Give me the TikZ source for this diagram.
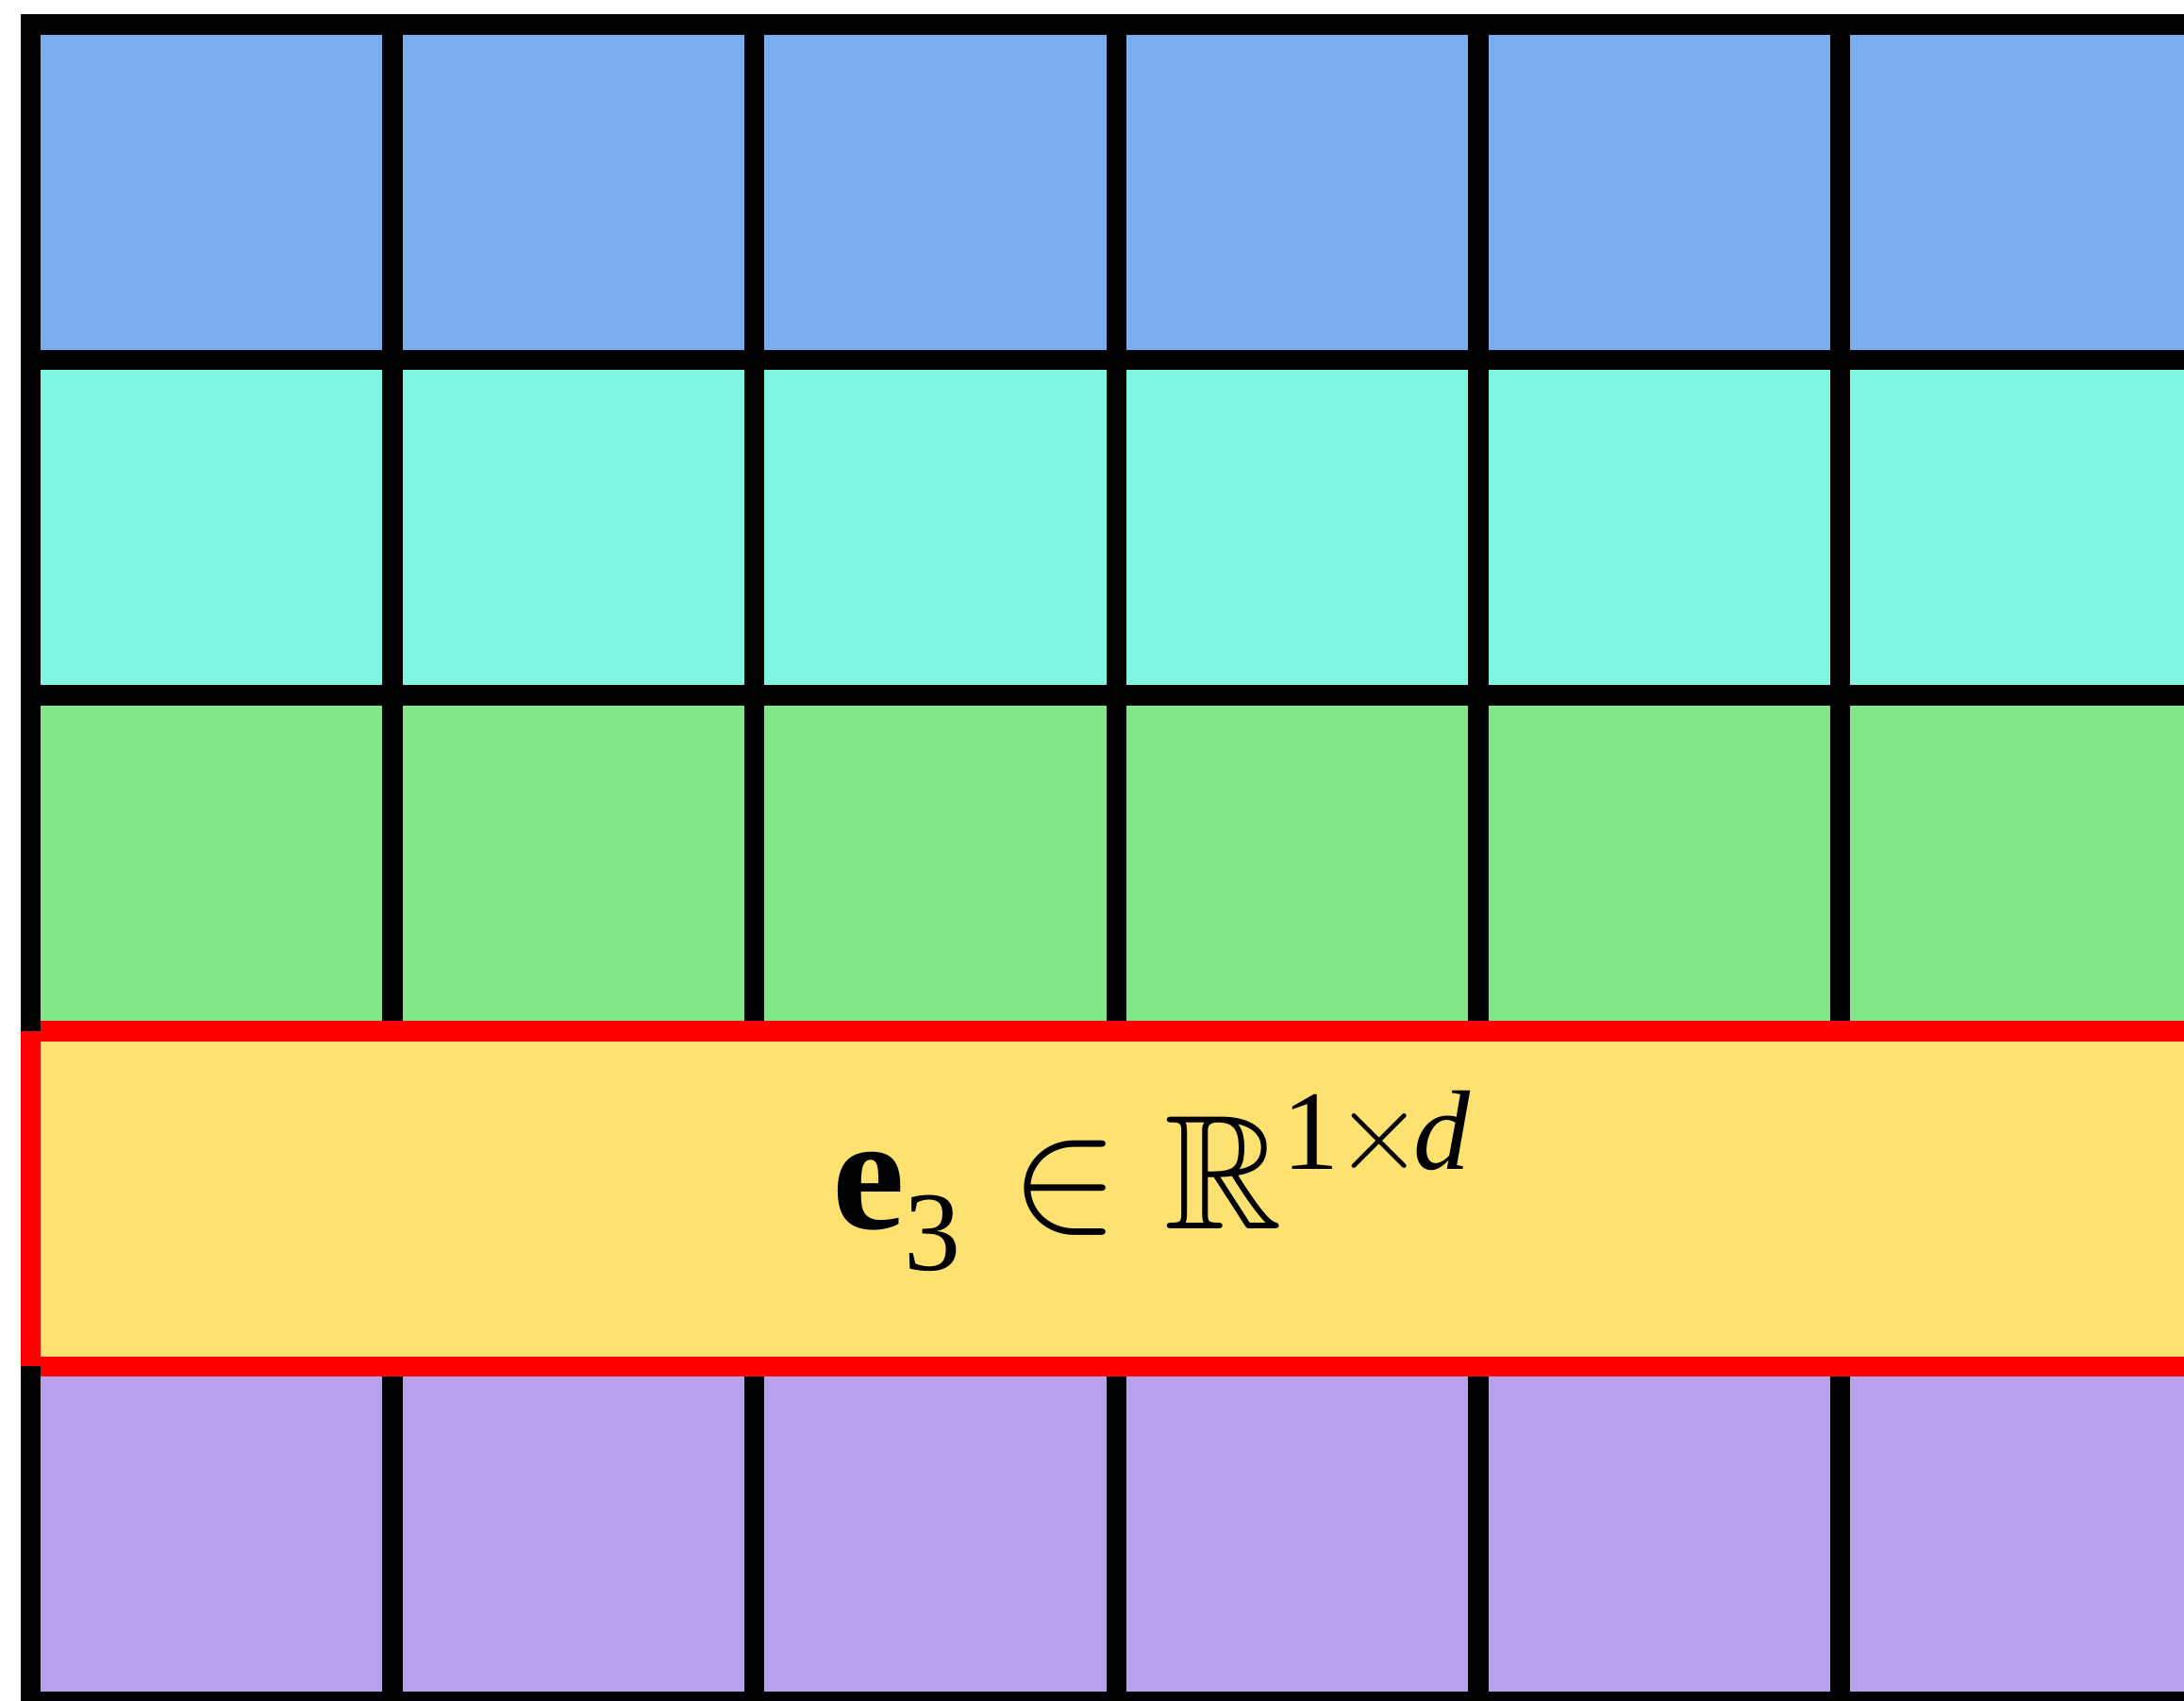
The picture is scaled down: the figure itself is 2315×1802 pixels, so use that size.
\documentclass[tikz,border=0pt]{standalone}
\usepackage{amsmath}
\usepackage{amssymb}
\usepackage{fontspec}
\setmainfont{Liberation Serif}
\definecolor{rowblue}{HTML}{7BACEE}
\definecolor{rowaqua}{HTML}{80F6E0}
\definecolor{rowgreen}{HTML}{80E689}
\definecolor{rowyellow}{HTML}{FEE271}
\definecolor{rowpurple}{HTML}{B8A0EB}
\tikzset{
  gridline/.style={draw=black, line width=2.15pt, line cap=butt},
  redline/.style={draw=red, line width=2.15pt, line join=miter, line cap=butt},
  mathlabel/.style={inner sep=0pt, font=\fontsize{17.28pt}{20pt}\selectfont}
}
\begin{document}
\begin{tikzpicture}[x=0.1pt, y=-0.1pt]
\clip (0,0) rectangle (2315,1802);
\fill[white] (0,0) rectangle (2315,1802);
% row fills
\fill[rowblue]   (32.5,26)    rectangle (2400,381.6);
\fill[rowaqua]   (32.5,381.6) rectangle (2400,737.2);
\fill[rowgreen]  (32.5,737.2) rectangle (2400,1092.8);
\fill[rowpurple] (32.5,1448.4) rectangle (2400,1804);
% horizontal black lines
\foreach \y in {26,381.6,737.2,1804} {
  \draw[gridline] (21.75,\y) -- (2400,\y);
}
% vertical black lines (interior)
\foreach \k in {1,...,6} {
  \draw[gridline] (32.5+\k*383.6,15.25) -- (32.5+\k*383.6,1092.8);
  \draw[gridline] (32.5+\k*383.6,1448.4) -- (32.5+\k*383.6,1815);
}
% highlighted row
\fill[rowyellow] (32.5,1092.8) rectangle (2400,1448.4);
\draw[redline] (2400,1092.8) -- (32.5,1092.8) -- (32.5,1448.4) -- (2400,1448.4);
% left black line segments on top
\draw[gridline] (32.5,15.25) -- (32.5,1092.8);
\draw[gridline] (32.5,1448.4) -- (32.5,1815);
% label
\node[mathlabel, anchor=base west] (lbl) at (880,1302)
  {$\textbf{e}^{}_{\text{3}}\in\mathbb{R}^{\text{1}\mkern-0.7mu\times\mkern-1.5mu\textit{d}}$};
\end{tikzpicture}
\end{document}
